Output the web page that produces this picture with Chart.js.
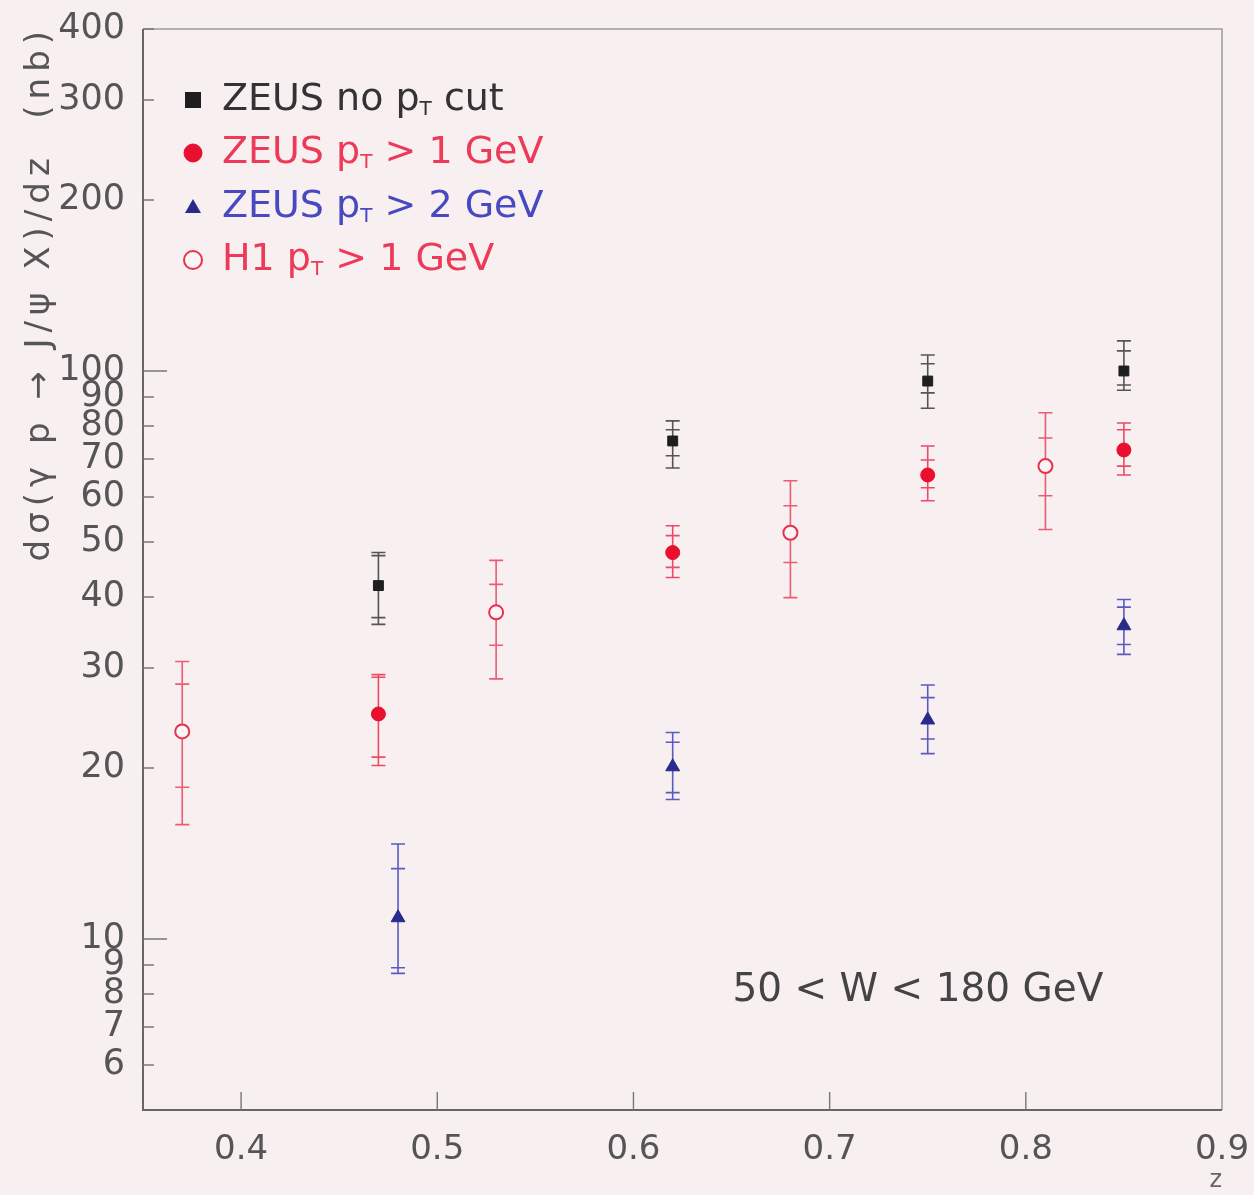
<!DOCTYPE html>
<html>
<head>
<meta charset="utf-8">
<script src="https://cdn.jsdelivr.net/npm/chart.js@4.4.1/dist/chart.umd.min.js"></script>
<style>
  html, body { margin: 0; padding: 0; background: #f8f0f0; }
  #wrap { width: 1254px; height: 1195px; }
</style>
</head>
<body>
<div id="wrap"><canvas id="chart" width="1254" height="1195"></canvas></div>
<script>
// z values and d sigma / dz (nb), with total (outer) and stat (inner) error ends
const zeusNoCutZ = [0.47, 0.62, 0.75, 0.85];
const zeusNoCutY = [41.9, 75.3, 96, 100];
const zeusNoCutHi = [47.9, 81.7, 106.7, 113];
const zeusNoCutLo = [35.8, 67.5, 86, 92.5];
const zeusNoCutStatHi = [47.3, 78.8, 103, 108.5];
const zeusNoCutStatLo = [36.8, 70.9, 91.5, 94.5];

const zeusPt1Z = [0.47, 0.62, 0.75, 0.85];
const zeusPt1Y = [24.9, 47.9, 65.6, 72.6];
const zeusPt1Hi = [29.2, 53.4, 73.8, 81];
const zeusPt1Lo = [20.2, 43.3, 59.1, 65.6];
const zeusPt1StatHi = [28.9, 51.3, 69.7, 78.8];
const zeusPt1StatLo = [20.9, 45.1, 62.3, 68];

const zeusPt2Z = [0.48, 0.62, 0.75, 0.85];
const zeusPt2Y = [10.9, 20.1, 24.3, 35.6];
const zeusPt2Hi = [14.7, 23.1, 28, 39.6];
const zeusPt2Lo = [8.7, 17.6, 21.2, 31.7];
const zeusPt2StatHi = [13.3, 22.2, 26.6, 38.4];
const zeusPt2StatLo = [8.9, 18.1, 22.5, 33];

const h1Pt1Z = [0.37, 0.53, 0.68, 0.81];
const h1Pt1Y = [23.2, 37.6, 51.9, 68];
const h1Pt1Hi = [30.8, 46.4, 64.1, 84.4];
const h1Pt1Lo = [15.9, 28.7, 39.9, 52.6];
const h1Pt1StatHi = [28.1, 42.1, 57.9, 76.2];
const h1Pt1StatLo = [18.5, 32.9, 46.0, 60.3];

const yTickValues = [6, 7, 8, 9, 10, 20, 30, 40, 50, 60, 70, 80, 90, 100, 200, 300, 400];
const yMajorTicks = [10, 100];
const xTickValues = [0.4, 0.5, 0.6, 0.7, 0.8, 0.9];

const legendNames = [
  ["ZEUS no p", "T", " cut"],
  ["ZEUS p", "T", " > 1 GeV"],
  ["ZEUS p", "T", " > 2 GeV"],
  ["H1 p", "T", " > 1 GeV"]
];
const legendTextColors = ["#333333", "#ec3a58", "#4848c0", "#ec3a58"];
const noteText = "50 < W < 180 GeV";
const yTitle = "dσ(γ p → J/ψ X)/dz  (nb)";

function makePoints(zs, ys, hi, lo, shi, slo) {
  return zs.map((z, i) => ({x: z, y: ys[i], hi: hi[i], lo: lo[i], shi: shi[i], slo: slo[i]}));
}

const FONT = "'DejaVu Sans', sans-serif";

const bgPlugin = {
  id: 'bg',
  beforeDraw(chart) {
    const c = chart.ctx;
    c.save();
    c.fillStyle = '#f8f0f0';
    c.fillRect(0, 0, chart.width, chart.height);
    c.restore();
  }
};

const errorBars = {
  id: 'errorBars',
  beforeDatasetsDraw(chart) {
    const c = chart.ctx;
    const ys = chart.scales.y;
    chart.data.datasets.forEach((ds, di) => {
      const meta = chart.getDatasetMeta(di);
      c.save();
      c.strokeStyle = ds.barColor;
      c.lineWidth = 1.6;
      ds.data.forEach((p, i) => {
        const px = meta.data[i].x;
        const yHi = ys.getPixelForValue(p.hi);
        const yLo = ys.getPixelForValue(p.lo);
        c.beginPath();
        c.moveTo(px, yHi); c.lineTo(px, yLo);
        [p.hi, p.lo, p.shi, p.slo].forEach(v => {
          const yy = ys.getPixelForValue(v);
          c.moveTo(px - 7, yy); c.lineTo(px + 7, yy);
        });
        c.stroke();
      });
      c.restore();
    });
  }
};

const frameAndTicks = {
  id: 'frameAndTicks',
  afterDraw(chart) {
    const c = chart.ctx;
    const a = chart.chartArea;
    const xs = chart.scales.x, ys = chart.scales.y;
    c.save();
    c.lineWidth = 1.5;
    c.strokeStyle = '#9a9a9a';
    c.beginPath();
    c.moveTo(a.left, a.top); c.lineTo(a.right, a.top); c.lineTo(a.right, a.bottom);
    c.stroke();
    c.strokeStyle = '#666666';
    c.lineWidth = 2;
    c.beginPath();
    c.moveTo(a.left, a.top); c.lineTo(a.left, a.bottom); c.lineTo(a.right, a.bottom);
    c.stroke();
    c.lineWidth = 1.4;
    c.strokeStyle = '#777777';
    c.beginPath();
    xTickValues.forEach(v => {
      const px = xs.getPixelForValue(v);
      if (px < a.right - 2) { c.moveTo(px, a.bottom); c.lineTo(px, a.bottom - 18); }
    });
    yTickValues.forEach(v => {
      const py = ys.getPixelForValue(v);
      const len = yMajorTicks.includes(v) ? 24 : 11;
      c.moveTo(a.left, py); c.lineTo(a.left + len, py);
    });
    c.stroke();

    // rotated y title, ending at the top of the frame
    c.save();
    c.translate(40, a.top - 4);
    c.rotate(-Math.PI / 2);
    c.fillStyle = '#555555';
    c.font = '34px ' + FONT;
    c.letterSpacing = '6px';
    c.textAlign = 'right';
    c.textBaseline = 'middle';
    c.fillText(yTitle, 0, 0);
    c.restore();

    // legend inside the frame
    const markerX = a.left + 50;
    const textX = a.left + 79;
    const rowY = [100, 153, 207, 260];
    chart.data.datasets.forEach((ds, i) => {
      const y = rowY[i];
      c.save();
      c.fillStyle = ds.backgroundColor;
      c.strokeStyle = ds.borderColor;
      c.lineWidth = ds.borderWidth;
      const style = ds.pointStyle;
      if (style === 'rect') {
        c.fillRect(markerX - 8, y - 8, 16, 16);
      } else if (style === 'triangle') {
        c.beginPath();
        c.moveTo(markerX, y - 8); c.lineTo(markerX + 8, y + 6); c.lineTo(markerX - 8, y + 6);
        c.closePath(); c.fill();
      } else {
        c.beginPath();
        c.arc(markerX, y, 9, 0, Math.PI * 2);
        c.fill(); c.stroke();
      }
      c.restore();
      const parts = legendNames[i];
      c.fillStyle = legendTextColors[i];
      c.textBaseline = 'middle';
      c.textAlign = 'left';
      c.font = '38px ' + FONT;
      let tx = textX;
      c.fillText(parts[0], tx, y);
      tx += c.measureText(parts[0]).width;
      c.font = '20px ' + FONT;
      c.fillText(parts[1], tx, y + 10);
      tx += c.measureText(parts[1]).width;
      c.font = '38px ' + FONT;
      c.fillText(parts[2], tx, y);
    });

    c.fillStyle = '#444444';
    c.font = '39px ' + FONT;
    c.textBaseline = 'middle';
    c.textAlign = 'left';
    c.fillText(noteText, xs.getPixelForValue(0.6505), ys.getPixelForValue(8.1));
    c.restore();
  }
};

const datasets = [
  {
    label: 'ZEUS no pT cut',
    data: makePoints(zeusNoCutZ, zeusNoCutY, zeusNoCutHi, zeusNoCutLo, zeusNoCutStatHi, zeusNoCutStatLo),
    pointStyle: 'rect', pointRadius: 7, backgroundColor: '#1e1e1e', borderColor: '#1e1e1e', borderWidth: 1,
    barColor: '#555555'
  },
  {
    label: 'ZEUS pT > 1 GeV',
    data: makePoints(zeusPt1Z, zeusPt1Y, zeusPt1Hi, zeusPt1Lo, zeusPt1StatHi, zeusPt1StatLo),
    pointStyle: 'circle', pointRadius: 7, backgroundColor: '#e8102e', borderColor: '#e8102e', borderWidth: 1,
    barColor: '#ec4a66'
  },
  {
    label: 'ZEUS pT > 2 GeV',
    data: makePoints(zeusPt2Z, zeusPt2Y, zeusPt2Hi, zeusPt2Lo, zeusPt2StatHi, zeusPt2StatLo),
    pointStyle: 'triangle', pointRadius: 8, backgroundColor: '#2a2a8c', borderColor: '#2a2a8c', borderWidth: 1,
    barColor: '#5a5ac4'
  },
  {
    label: 'H1 pT > 1 GeV',
    data: makePoints(h1Pt1Z, h1Pt1Y, h1Pt1Hi, h1Pt1Lo, h1Pt1StatHi, h1Pt1StatLo),
    pointStyle: 'circle', pointRadius: 7, backgroundColor: '#fbf4f4', borderColor: '#e8304e', borderWidth: 2,
    barColor: '#ec5a74'
  }
];

const options = {
  responsive: false,
  animation: false,
  layout: { padding: { top: 29, right: 32, left: 0, bottom: 0 } },
  plugins: {
    legend: { display: false },
    tooltip: { enabled: false }
  },
  scales: {
    x: {
      type: 'linear',
      min: 0.35,
      max: 0.9,
      afterBuildTicks(scale) { scale.ticks = xTickValues.map(v => ({value: v})); },
      afterFit(scale) {
        scale.height = 85;
        scale.paddingLeft = 0;
        scale.paddingRight = 0;
      },
      grid: { display: false, drawTicks: false },
      border: { display: false },
      ticks: {
        autoSkip: false,
        maxRotation: 0,
        padding: 20,
        color: '#555555',
        font: { family: FONT, size: 34 },
        callback: v => v.toFixed(1)
      },
      title: {
        display: true,
        text: 'z',
        align: 'end',
        color: '#666666',
        font: { family: FONT, size: 24 },
        padding: { top: -14, bottom: 0 }
      }
    },
    y: {
      type: 'logarithmic',
      min: 5,
      max: 400,
      afterBuildTicks(scale) { scale.ticks = yTickValues.map(v => ({value: v, major: yMajorTicks.includes(v)})); },
      afterFit(scale) {
        scale.width = 143;
        scale.paddingTop = 0;
        scale.paddingBottom = 0;
      },
      grid: { display: false, drawTicks: false },
      border: { display: false },
      ticks: {
        autoSkip: false,
        padding: 18,
        color: '#555555',
        font: { family: FONT, size: 35 },
        callback: v => String(v)
      }
    }
  }
};

const ctx = document.getElementById('chart');
new Chart(ctx, {
  type: 'scatter',
  data: { datasets: datasets },
  options: options,
  plugins: [bgPlugin, errorBars, frameAndTicks]
});
</script>
</body>
</html>
